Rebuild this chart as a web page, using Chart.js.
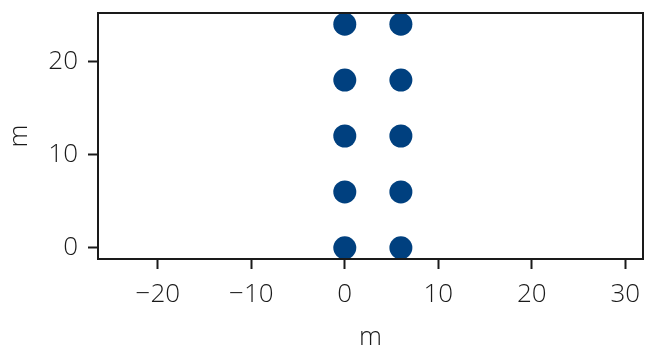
<!DOCTYPE html>
<html>
<head>
<meta charset="utf-8">
<script src="https://cdn.jsdelivr.net/npm/chart.js@4/dist/chart.umd.min.js"></script>
<style>
  html, body { margin: 0; padding: 0; background: #ffffff; }
  canvas { display: block; }
</style>
</head>
<body>
<canvas id="chart" width="647" height="347"></canvas>
<script>
// Point positions (metres)
const xValues = [0, 0, 0, 0, 0, 6, 6, 6, 6, 6];
const yValues = [0, 6, 12, 18, 24, 0, 6, 12, 18, 24];

// Axis ticks and limits
const xTicks = [-20, -10, 0, 10, 20, 30];
const yTicks = [0, 10, 20];
const xLimits = [-26.4, 31.9];
const yLimits = [-1.2, 25.2];
const xTitle = 'm';
const yTitle = 'm';

const FONT = "'Open Sans', 'DejaVu Sans', sans-serif";
const INK = '#1a1a1a';

const points = xValues.map((x, i) => ({ x: x, y: yValues[i] }));

// Closed frame around the plotting area
const frame = {
  id: 'frame',
  afterDatasetsDraw(chart) {
    const a = chart.chartArea, c = chart.ctx;
    c.save();
    c.strokeStyle = INK;
    c.lineWidth = 2;
    c.strokeRect(a.left, a.top, a.right - a.left, a.bottom - a.top);
    c.restore();
  }
};

const fmt = v => String(v).replace('-', '\u2212');

// Fixed axis box sizes, no extra room reserved for overhanging labels
const fixX = s => { s.height = 88; s.paddingLeft = 0; s.paddingRight = 0; };
const fixY = s => { s.width = 98; s.paddingTop = 0; s.paddingBottom = 0; };

new Chart(document.getElementById('chart'), {
  type: 'scatter',
  data: {
    datasets: [{
      data: points,
      pointRadius: 11.5,
      pointHoverRadius: 11.5,
      pointBackgroundColor: '#00407f',
      pointBorderWidth: 0,
      borderWidth: 0
    }]
  },
  options: {
    responsive: false,
    animation: false,
    events: [],
    layout: { autoPadding: false, padding: { top: 13, right: 4, bottom: 0, left: 0 } },
    plugins: { legend: { display: false }, tooltip: { enabled: false } },
    scales: {
      x: {
        type: 'linear',
        min: xLimits[0],
        max: xLimits[1],
        afterBuildTicks: s => { s.ticks = xTicks.map(v => ({ value: v })); },
        afterFit: fixX,
        grid: { drawOnChartArea: false, drawTicks: true, tickLength: 10, tickWidth: 2, tickColor: INK },
        border: { display: false },
        ticks: {
          padding: 10,
          color: INK,
          font: { family: FONT, size: 26, weight: 300 },
          maxRotation: 0,
          callback: v => fmt(v)
        },
        title: {
          display: true,
          text: xTitle,
          color: INK,
          font: { family: FONT, size: 26, weight: 300, lineHeight: 0.7 },
          padding: { top: 0, bottom: 0 }
        }
      },
      y: {
        type: 'linear',
        min: yLimits[0],
        max: yLimits[1],
        afterBuildTicks: s => { s.ticks = yTicks.map(v => ({ value: v })); },
        afterFit: fixY,
        grid: { drawOnChartArea: false, drawTicks: true, tickLength: 10, tickWidth: 2, tickColor: INK },
        border: { display: false },
        ticks: {
          padding: 10,
          color: INK,
          font: { family: FONT, size: 26, weight: 300 },
          callback: v => fmt(v)
        },
        title: {
          display: true,
          text: yTitle,
          color: INK,
          font: { family: FONT, size: 26, weight: 300, lineHeight: 1.0 },
          padding: { top: 7, bottom: 0 }
        }
      }
    }
  },
  plugins: [frame]
});
</script>
</body>
</html>
